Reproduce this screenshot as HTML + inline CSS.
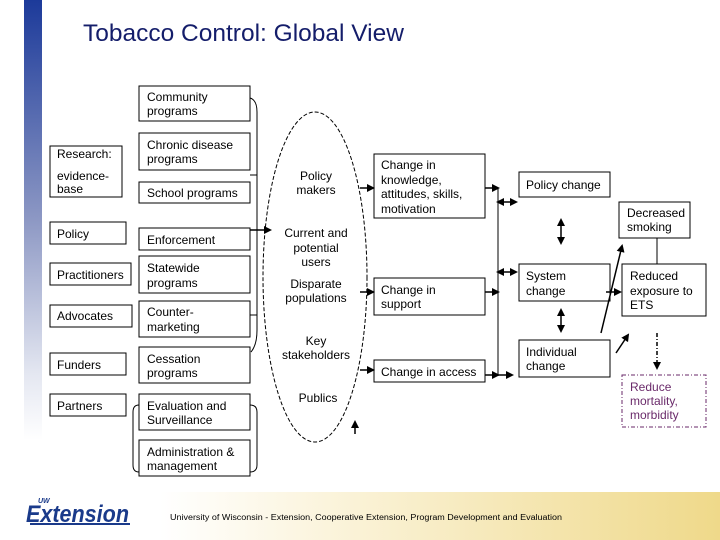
<!DOCTYPE html>
<html><head><meta charset="utf-8"><style>
html,body{margin:0;padding:0;background:#fff}
svg{display:block}
text{font-family:"Liberation Sans",sans-serif;font-size:12px;fill:#000}
</style></head><body>
<svg width="720" height="540" viewBox="0 0 720 540" xmlns="http://www.w3.org/2000/svg">
<defs>
<linearGradient id="bar" x1="0" y1="0" x2="0" y2="1">
<stop offset="0" stop-color="#1c3a9a"/><stop offset="0.5" stop-color="#8d98c4"/><stop offset="0.85" stop-color="#e4e7f1"/><stop offset="1" stop-color="#ffffff"/></linearGradient>
<linearGradient id="ft" x1="0" y1="0" x2="1" y2="0">
<stop offset="0" stop-color="#ffffff"/><stop offset="0.3" stop-color="#fbf4dc"/><stop offset="1" stop-color="#efd98a"/></linearGradient>
<marker id="ah" markerWidth="8" markerHeight="8" refX="6" refY="4" orient="auto" markerUnits="userSpaceOnUse"><path d="M0,0 L8,4 L0,8 z" fill="#000"/></marker>
<marker id="as" markerWidth="8" markerHeight="8" refX="2" refY="4" orient="auto-start-reverse" markerUnits="userSpaceOnUse"><path d="M0,0 L8,4 L0,8 z" fill="#000"/></marker>
</defs>
<rect x="24" y="0" width="18" height="440" fill="url(#bar)"/>
<rect x="160" y="492" width="560" height="48" fill="url(#ft)"/>
<text x="83" y="41" style="font-size:24.5px;fill:#141d6a">Tobacco Control:  Global View</text>

<g fill="none" stroke="#000" stroke-width="1">
<rect x="50" y="146" width="72" height="51"/>
<rect x="50" y="222" width="76" height="22"/>
<rect x="50" y="263" width="81" height="22"/>
<rect x="50" y="305" width="82" height="22"/>
<rect x="50" y="353" width="76" height="22"/>
<rect x="50" y="394" width="76" height="22"/>
<rect x="139" y="86" width="111" height="35"/>
<rect x="139" y="133" width="111" height="37"/>
<rect x="139" y="182" width="111" height="21"/>
<rect x="139" y="228" width="111" height="22"/>
<rect x="139" y="256" width="111" height="37"/>
<rect x="139" y="301" width="111" height="36"/>
<rect x="139" y="347" width="111" height="36"/>
<rect x="139" y="394" width="111" height="36"/>
<rect x="139" y="440" width="111" height="36"/>
<rect x="374" y="154" width="111" height="64"/>
<rect x="374" y="278" width="111" height="37"/>
<rect x="374" y="360" width="111" height="22"/>
<rect x="519" y="172" width="91" height="25"/>
<rect x="519" y="264" width="91" height="37"/>
<rect x="519" y="340" width="91" height="37"/>
<rect x="619" y="202" width="71" height="36"/>
<rect x="622" y="264" width="84" height="52"/>
<rect x="622" y="375" width="84" height="52" stroke="#6a2a6a" stroke-dasharray="4,2,1,2"/>
<path d="M250,98 Q257,100 257,112 L257,330 Q257,345 251,352"/>
<path d="M250,175 L257,175 M250,315 L257,315"/>
<path d="M139,405 Q133,405 133,412 L133,465 Q133,472 139,472"/>
<path d="M250,405 Q257,405 257,412 L257,465 Q257,472 250,472"/>
<ellipse cx="315" cy="277" rx="52" ry="165" stroke-dasharray="4,2"/>
<line x1="498" y1="188" x2="498" y2="376"/>
<line x1="657" y1="238" x2="657" y2="264"/>
</g>
<g stroke="#000" stroke-width="1.5" fill="none">
<line x1="250" y1="230" x2="270" y2="230" marker-end="url(#ah)"/>
<line x1="360" y1="188" x2="373" y2="188" marker-end="url(#ah)"/>
<line x1="360" y1="292" x2="373" y2="292" marker-end="url(#ah)"/>
<line x1="360" y1="370" x2="373" y2="370" marker-end="url(#ah)"/>
<line x1="355" y1="434" x2="355" y2="422" marker-end="url(#ah)"/>
<line x1="485" y1="188" x2="498" y2="188" marker-end="url(#ah)"/>
<line x1="485" y1="292" x2="498" y2="292" marker-end="url(#ah)"/>
<line x1="485" y1="375" x2="498" y2="375" marker-end="url(#ah)"/>
<line x1="498" y1="375" x2="512" y2="375" marker-end="url(#ah)"/>
<line x1="502" y1="202" x2="516" y2="202" marker-start="url(#as)" marker-end="url(#ah)"/>
<line x1="502" y1="272" x2="516" y2="272" marker-start="url(#as)" marker-end="url(#ah)"/>
<line x1="561" y1="224" x2="561" y2="243" marker-start="url(#as)" marker-end="url(#ah)"/>
<line x1="561" y1="314" x2="561" y2="331" marker-start="url(#as)" marker-end="url(#ah)"/>
<line x1="601" y1="333" x2="622" y2="246" marker-end="url(#ah)"/>
<line x1="606" y1="292" x2="620" y2="292" marker-end="url(#ah)"/>
<line x1="616" y1="353" x2="628" y2="335" marker-end="url(#ah)"/>
<line x1="657" y1="333" x2="657" y2="368" stroke-dasharray="4,2,1,2" marker-end="url(#ah)"/>
</g>
<text x="57" y="158">Research:</text>
<text x="57" y="180">evidence-</text><text x="57" y="193">base</text>
<text x="57" y="238">Policy</text>
<text x="57" y="279">Practitioners</text>
<text x="57" y="320">Advocates</text>
<text x="57" y="369">Funders</text>
<text x="57" y="410">Partners</text>
<text x="147" y="101">Community</text><text x="147" y="115">programs</text>
<text x="147" y="149">Chronic disease</text><text x="147" y="163">programs</text>
<text x="147" y="197">School programs</text>
<text x="147" y="244">Enforcement</text>
<text x="147" y="272">Statewide</text><text x="147" y="287">programs</text>
<text x="147" y="316">Counter-</text><text x="147" y="331">marketing</text>
<text x="147" y="363">Cessation</text><text x="147" y="377">programs</text>
<text x="147" y="410">Evaluation and</text><text x="147" y="424">Surveillance</text>
<text x="147" y="456">Administration &amp;</text><text x="147" y="470">management</text>
<g text-anchor="middle">
<text x="316" y="180">Policy</text><text x="316" y="194">makers</text>
<text x="316" y="237">Current and</text><text x="316" y="252">potential</text><text x="316" y="266">users</text>
<text x="316" y="288">Disparate</text><text x="316" y="302">populations</text>
<text x="316" y="345">Key</text><text x="316" y="359">stakeholders</text>
<text x="318" y="402">Publics</text>
</g>
<text x="381" y="169">Change in</text><text x="381" y="184">knowledge,</text><text x="381" y="198">attitudes, skills,</text><text x="381" y="213">motivation</text>
<text x="381" y="294">Change in</text><text x="381" y="308">support</text>
<text x="381" y="376">Change in access</text>
<text x="526" y="189">Policy change</text>
<text x="526" y="280">System</text><text x="526" y="295">change</text>
<text x="526" y="356">Individual</text><text x="526" y="370">change</text>
<text x="627" y="217">Decreased</text><text x="627" y="231">smoking</text>
<text x="630" y="280">Reduced</text><text x="630" y="295">exposure to</text><text x="630" y="309">ETS</text>
<text x="630" y="391" style="fill:#6a2a6a">Reduce</text><text x="630" y="405" style="fill:#6a2a6a">mortality,</text><text x="630" y="419" style="fill:#6a2a6a">morbidity</text>
<text x="38" y="503" style="font-size:7px;fill:#1a3a8a;font-weight:bold;font-style:italic">UW</text>
<text x="26" y="522" textLength="103" lengthAdjust="spacingAndGlyphs" style="font-size:24px;fill:#1a3a8a;font-weight:bold;font-style:italic">Extension</text>
<rect x="30" y="523" width="100" height="2" fill="#1a3a8a"/>
<text x="170" y="520" textLength="392" lengthAdjust="spacingAndGlyphs" style="font-size:8px">University of Wisconsin - Extension, Cooperative Extension, Program Development and Evaluation</text>
</svg>
</body></html>
